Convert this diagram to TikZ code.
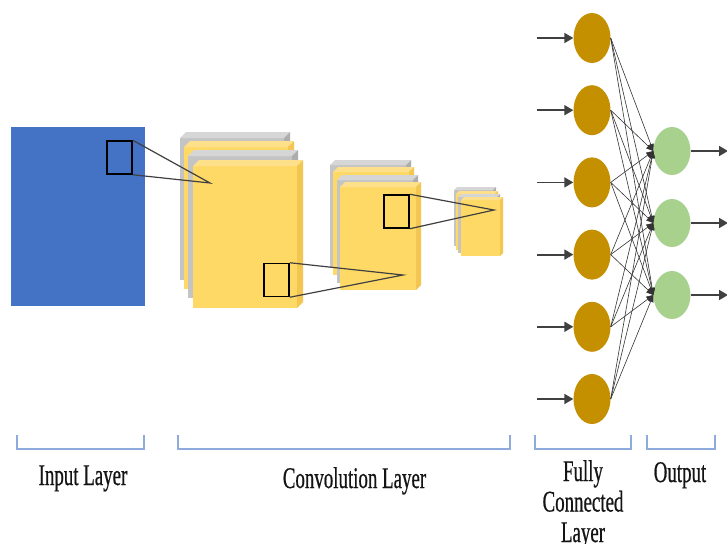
\documentclass[tikz,border=0pt]{standalone}
\usepackage{fontspec}
\setmainfont{Liberation Serif}
\newfontfamily\condfont[FakeStretch=0.63,FakeBold=0.6]{Liberation Serif}
\usetikzlibrary{arrows.meta,shapes.geometric}
\definecolor{inblue}{HTML}{4472C4}
\definecolor{yfront}{HTML}{FFD966}
\definecolor{ytop}{HTML}{FFE08A}
\definecolor{yside}{HTML}{F2C650}
\definecolor{gfront}{HTML}{C4C4C4}
\definecolor{gtop}{HTML}{D6D6D6}
\definecolor{gside}{HTML}{ADADAD}
\definecolor{goldc}{HTML}{C49000}
\definecolor{greenc}{HTML}{A9D18E}
\definecolor{brk}{HTML}{8FAADC}
\definecolor{txt}{HTML}{141414}
\newcommand\myslab[6]{% x0 y0 w h d prefix
  \fill[#6front] (#1,#2+#5) rectangle (#1+#3-#5,#2+#4);
  \fill[#6top] (#1,#2+#5) -- (#1+#5,#2) -- (#1+#3,#2) -- (#1+#3-#5,#2+#5) -- cycle;
  \fill[#6side] (#1+#3-#5,#2+#5) -- (#1+#3,#2) -- (#1+#3,#2+#4-#5) -- (#1+#3-#5,#2+#4) -- cycle;
}
\tikzset{
  sqbox/.style={draw=black, line width=1.5pt, inner sep=0pt, minimum width=25pt, minimum height=33pt},
  fline/.style={draw=black!75, line width=1.2pt},
  goldn/.style={ellipse, fill=goldc, inner sep=0pt, minimum width=37pt, minimum height=50pt},
  greenn/.style={ellipse, fill=greenc, inner sep=0pt, minimum width=37pt, minimum height=48pt},
  inarrow/.style={draw=black!75, line width=1.8pt, -{Triangle[length=9pt,width=10pt]}},
  fcline/.style={draw=black!80, line width=0.6pt, -{Triangle[length=7pt,width=6pt]}},
  bracket/.style={draw=brk, line width=1.5pt},
  lbl/.style={text=txt, font=\condfont\fontsize{30}{30.5}\selectfont, inner sep=0pt, align=center}
}
\begin{document}
\begin{tikzpicture}[x=1pt,y=-1pt]
\useasboundingbox (0,0) rectangle (727,543);
\fill[white] (0,0) rectangle (727,543);
% input
\fill[inblue] (11,127) rectangle (145,306);
% conv stacks
\myslab{180}{132}{110}{148}{6}{g}
\myslab{184}{141}{110}{148}{6}{y}
\myslab{188}{150}{110}{148}{6}{g}
\myslab{193}{160}{110}{148}{6}{y}
\myslab{330}{160}{81}{108}{5}{g}
\myslab{333}{167}{81}{108}{5}{y}
\myslab{337}{175}{81}{108}{5}{g}
\myslab{340}{182}{81}{108}{5}{y}
\myslab{454}{187}{42}{59}{3}{g}
\myslab{456}{191}{42}{59}{3}{y}
\myslab{458}{194}{42}{59}{3}{g}
\myslab{461}{197}{42}{59}{3}{y}
% kernels
\node[sqbox] (b1) at (119.5,157.5) {};
\node[sqbox] (b2) at (276.5,280) {};
\node[sqbox] (b3) at (396.5,211.5) {};
\coordinate (p1) at (210,183);
\coordinate (p2) at (403,275);
\coordinate (p3) at (494,210);
\draw[fline] (b1.north east) -- (p1) -- (b1.south east);
\draw[fline] (b2.north east) -- (p2) -- (b2.south east);
\draw[fline] (b3.north east) -- (p3) -- (b3.south east);
% fully connected
\foreach \i/\y in {1/38,2/110.2,3/182.4,4/254.6,5/326.8,6/399}{
  \node[goldn] (f\i) at (592,\y) {};
  \coordinate (in\i) at (537,\y);
  \draw[inarrow] (in\i) -- (f\i);
}
\foreach \j/\y in {1/151,2/223,3/295}{
  \node[greenn] (o\j) at (672,\y) {};
  \coordinate (out\j) at (728,\y);
}
\foreach \i in {1,...,6}{
  \foreach \j in {1,2,3}{
    \draw[fcline] (f\i.east) -- (o\j.west);
  }
}
\foreach \j in {1,2,3}{ \draw[inarrow] (o\j) -- (out\j); }
% brackets
\draw[bracket] (17,435) -- (17,449) -- (144,449) -- (144,435);
\draw[bracket] (178,435) -- (178,449) -- (510,449) -- (510,435);
\draw[bracket] (535,435) -- (535,449) -- (631,449) -- (631,435);
\draw[bracket] (647,435) -- (647,449) -- (715,449) -- (715,435);
% labels
\node[lbl, anchor=base] (l1) at (83,485) {Input Layer};
\node[lbl, anchor=base] (l2) at (354.5,488) {Convolution Layer};
\node[lbl, anchor=north] (l3) at (583,460) {Fully\\Connected\\Layer};
\node[lbl, anchor=base] (l4) at (680,482) {Output};
\end{tikzpicture}
\end{document}
